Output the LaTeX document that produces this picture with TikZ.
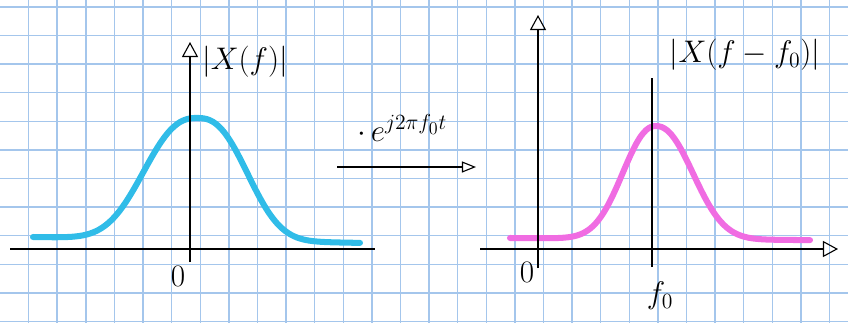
\documentclass[tikz,border=0pt]{standalone}
\usepackage{amsmath,amssymb}
\usepackage{tikz}
\usetikzlibrary{arrows.meta,positioning}

\definecolor{gridblue}{RGB}{164,198,236}
\definecolor{specblue}{RGB}{48,188,232}
\definecolor{specpink}{RGB}{240,108,226}

\begin{document}
\begin{tikzpicture}[x=0.035cm,y=-0.035cm,
    txt/.style={font=\huge,transform shape,scale=1.5},
    axis/.style={line width=1.1pt},
    axisarrow/.style={axis,-{Triangle[open,length=15pt,width=16pt,line width=1.1pt]}},
    spectrum/.style={line width=6pt,line cap=round,line join=round}]
  \useasboundingbox (0,0) rectangle (848,323);
  % squared paper
  \foreach \i in {1,...,29}
    \draw[gridblue,line width=1.4pt] (\i*28.6,0) -- (\i*28.6,323);
  \foreach \j in {0,...,11}
    \draw[gridblue,line width=1.4pt] (0,6.8+\j*28.6) -- (848,6.8+\j*28.6);

  % left spectrum
  \coordinate (lxa) at (10,249);
  \coordinate (lxb) at (375,249);
  \coordinate (lya) at (190,262);
  \coordinate (lyb) at (190,42);
  \draw[spectrum,specblue] plot[domain=33:360,samples=110,smooth]
    (\x,{237+(\x-33)*0.018-122*exp(-pow((abs(\x-198)+0.01)/((\x<198)?67:61),2.5))});
  \draw[axis] (lxa) -- (lxb);
  \draw[axisarrow] (lya) -- (lyb);
  \node[txt] (lzero) at (178,276) {$0$};
  \node[txt] (lmag) at (245,62) {$|X(f)|$};

  % modulation
  \coordinate (ma) at (337,167);
  \coordinate (mb) at (476,167);
  \draw[line width=1.1pt,-{Triangle[open,length=14pt,width=11pt,line width=1.1pt]}] (ma) -- (mb);
  \node[txt] (mod) at (402,128) {$\cdot\, e^{j2\pi f_0 t}$};

  % right spectrum
  \coordinate (rxa) at (480,249);
  \coordinate (rxb) at (838,249);
  \coordinate (rya) at (538,268);
  \coordinate (ryb) at (538,15);
  \coordinate (fa) at (652,267);
  \coordinate (fb) at (652,78);
  \draw[spectrum,specpink] plot[domain=510:810,samples=120,smooth]
    (\x,{238+(\x-510)*0.007-113*exp(-pow((abs(\x-656)+0.01)/((\x<656)?44:49),2.2))});
  \draw[axisarrow] (rxa) -- (rxb);
  \draw[axisarrow] (rya) -- (ryb);
  \draw[axis] (fa) -- (fb);
  \node[txt] (rzero) at (527,272) {$0$};
  \node[txt] (fnull) at (660,296) {$f_0$};
  \node[txt] (rmag) at (745,55) {$|X(f-f_0)|$};
\end{tikzpicture}
\end{document}
